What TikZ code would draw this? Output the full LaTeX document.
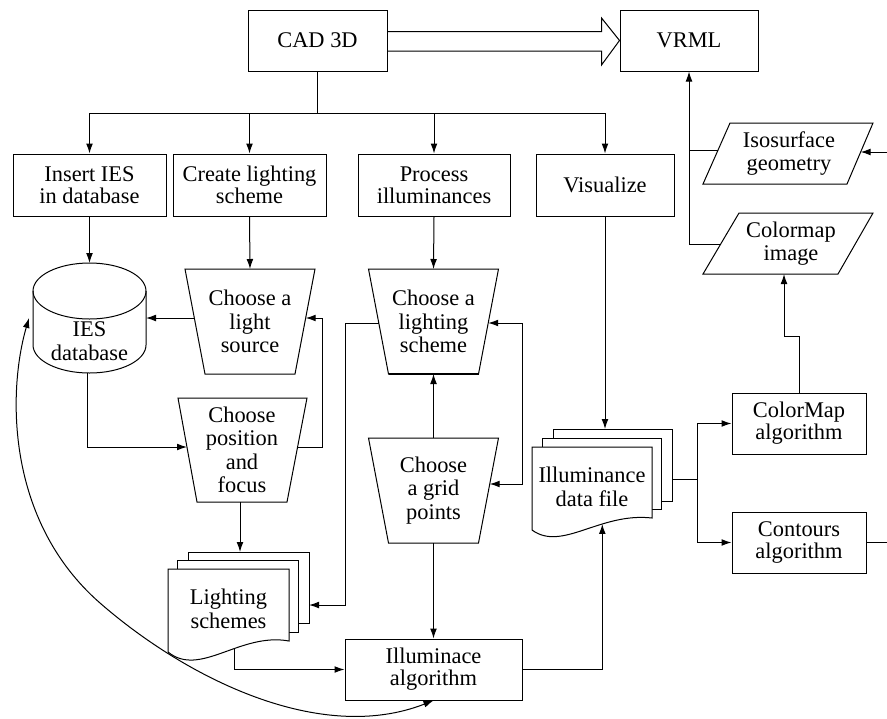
\documentclass[tikz,border=0pt]{standalone}
\usepackage{fontspec}
\setmainfont{Liberation Serif}
\usetikzlibrary{arrows.meta}
\begin{document}
\begin{tikzpicture}[x=0.5pt,y=-0.5pt,line width=0.5pt,
  every node/.style={font=\fontsize{11.2}{11.7}\selectfont,align=center,inner sep=0pt},
  box/.style 2 args={draw,minimum width=#1,minimum height=#2,font=\fontsize{11.2}{10.9}\selectfont},
  arr/.style={-{Latex[length=5pt,width=3.4pt]}},
  darr/.style={{Latex[length=5pt,width=3.4pt]}-{Latex[length=5pt,width=3.4pt]}},
  sheet/.style={draw,fill=white}]
\useasboundingbox (0,0) rectangle (887,718);

% rectangular boxes
\node[box={69.5pt}{30.5pt}] (cad) at (317.5,40.5) {CAD 3D};
\node[box={69pt}{30.5pt}] (vrml) at (689,40.5) {VRML};
\node[box={76.5pt}{31pt}] (ins) at (89.5,185) {Insert IES\\in database};
\node[box={76.5pt}{31pt}] (cre) at (249.5,185) {Create lighting\\scheme};
\node[box={76pt}{31pt}] (pro) at (434,185) {Process\\illuminances};
\node[box={69pt}{31pt}] (vis) at (605,185) {Visualize};
\node[box={88.5pt}{30.5pt}] (illum) at (433.5,669.5) {Illuminace\\algorithm};
\node[box={67pt}{30.5pt}] (cmalg) at (799,423.5) {ColorMap\\algorithm};
\node[box={67pt}{30.5pt}] (cont) at (799,542.5) {Contours\\algorithm};

% hollow arrow CAD -> VRML
\draw (cad.east |- 0,31.5) -- (601.5,31.5) -- (601.5,18) -- (vrml.west) -- (601.5,65) -- (601.5,51) -- (cad.east |- 0,51);

% tree
\coordinate (bus) at (317.5,113);
\draw (cad.south) -- (bus);
\draw (bus -| ins.north) -- (bus -| vis.north);
\foreach \n in {ins,cre,pro,vis} \draw[arr] (bus -| \n.north) -- (\n.north);

% IES database cylinder
\draw (33,291) -- (33,345) arc[start angle=180,end angle=0,x radius=56.5,y radius=28] -- (146,291);
\draw (89.5,291) ellipse[x radius=56.5,y radius=28];
\node (db) at (89.5,341) {IES\\database};
\coordinate (dbTop) at (89.5,263);
\coordinate (dbR) at (146,318);
\coordinate (dbBot) at (87,373);
\coordinate (dbL) at (29,318);

% trapezoids
\draw (185,269) -- (315,269) -- (295,374) -- (205,374) -- cycle;
\node (lsrc) at (250,321.5) {Choose a\\light\\source};
\coordinate (lsrcT) at (250,269);
\coordinate (lsrcL) at (194.3,318);
\coordinate (lsrcR) at (305.7,318);

\draw (178,398) -- (307,398) -- (287,502) -- (197,502) -- cycle;
\node (posf) at (242,450) {Choose\\position\\and\\focus};
\coordinate (posL) at (187,447);
\coordinate (posR) at (297.6,447);
\coordinate (posB) at (240,502);

\draw (368.5,269) -- (498.5,269) -- (478.5,374) -- (388.5,374) -- cycle;
\draw[line width=1pt] (388.5,374) -- (478.5,374);
\node (lsch) at (433.5,321.5) {Choose a\\lighting\\scheme};
\coordinate (lschT) at (433.5,269);
\coordinate (lschB) at (433.5,374);
\coordinate (lschL) at (378.8,323);
\coordinate (lschR) at (488.2,323);

\draw (368.5,438) -- (498.5,438) -- (478.5,543) -- (388.5,543) -- cycle;
\node (grid) at (433.5,490.5) {Choose\\a grid\\points};
\coordinate (gridT) at (433.5,438);
\coordinate (gridB) at (433.5,543);
\coordinate (gridR) at (489.7,484);

% Lighting schemes (multi-document)
\draw[sheet] (188,552) rectangle (309,623);
\draw[sheet] (177,560) rectangle (298,632);
\draw[sheet] (168,569) -- (289,569) -- (289,641) .. controls (240,632) and (200,678) .. (168,652) -- cycle;
\path (289,641) .. controls (240,632) and (200,678) .. (168,652) coordinate[pos=0.4] (lsdB);
\node (lsd) at (228.5,609) {Lighting\\schemes};
\coordinate (lsdT) at (240,552);
\coordinate (lsdR) at (309,605);

% Illuminance data file (multi-document)
\draw[sheet] (553,429) rectangle (672,501);
\draw[sheet] (542,438) rectangle (661,509);
\draw[sheet] (532,447) -- (652,447) -- (652,518) .. controls (600,512) and (562,552) .. (532,530) -- cycle;
\path (652,518) .. controls (600,512) and (562,552) .. (532,530) coordinate[pos=0.35] (dfB);
\node (df) at (592,487) {Illuminance\\data file};
\coordinate (dfT) at (605,429);
\coordinate (dfR) at (672,479);
\coordinate (split) at (697,479);

% parallelograms
\draw (730,123) -- (873,123) -- (847,184) -- (703,184) -- cycle;
\node (iso) at (789,153.5) {Isosurface\\geometry};
\coordinate (isoL) at (718,150);
\coordinate (isoR) at (860.6,152);
\coordinate (edgeIso) at (887,152);

\draw (739,213) -- (873,213) -- (838,274) -- (703,274) -- cycle;
\node (cmi) at (791,243.5) {Colormap\\image};
\coordinate (cmiL) at (720.7,244);
\coordinate (cmiB) at (784,274);
\coordinate (edgeCont) at (887,542.5);

% connectors
\draw[arr] (ins.south) -- (dbTop);
\draw[arr] (cre.south) -- (lsrcT);
\draw[arr] (pro.south) -- (lschT);
\draw[arr] (lsrcL) -- (dbR);
\draw[arr] (dbBot) |- (posL);
\draw[arr] (posR) -- ++(24.4,0) |- (lsrcR);
\draw[arr] (posB) -- (lsdT);
\draw[arr] (lschL) -- ++(-33.8,0) |- (lsdR);
\draw[arr] (gridT) -- (lschB);
\draw[darr] (gridR) -- ++(32.3,0) |- (lschR);
\draw[arr] (gridB) -- (illum.north);
\draw[arr] (lsdB) |- (illum.west);
\draw[arr] (illum.east) -| (dfB);
\draw[arr] (vis.south) -- (dfT);
\draw (dfR) -- (split);
\draw[arr] (split) |- (cmalg.west);
\draw[arr] (split) |- (cont.west);
\draw[arr] (cmalg.north) -- ++(0,-56) -| (cmiB);
\draw[arr] (cmiL) -| (vrml.south);
\draw (isoL) -- (isoL -| vrml.south);
\draw[arr] (edgeIso) -- (isoR);
\draw (cont.east) -- (edgeCont);
\draw[darr] (dbL) .. controls (8,390) and (5,520) .. (100,603) .. controls (186,678) and (320,745) .. (433.5,700.5);
\end{tikzpicture}
\end{document}
